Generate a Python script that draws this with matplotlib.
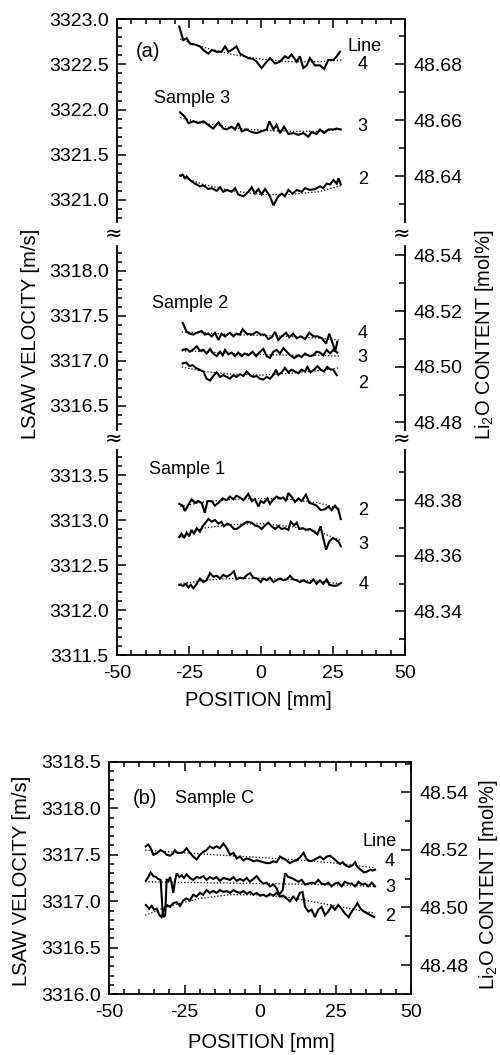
import matplotlib
matplotlib.use('Agg')
import matplotlib.pyplot as plt
from matplotlib.ticker import MultipleLocator, FormatStrFormatter, FixedLocator, FixedFormatter

plt.rcParams['font.family'] = ['Liberation Sans', 'DejaVu Sans']
plt.rcParams['mathtext.default'] = 'regular'

# ---------------- data: panel (a) ----------------
# Sample 3
s3_l4_x = [-28.4, -27.0, -25.8, -24.7, -22.9, -21.2, -20.0, -18.3, -17.1, -15.4, -13.7, -12.5, -11.3, -10.2,
           -8.5, -7.3, -5.6, -4.4, -2.7, -1.5, 0.2, 2.0, 3.1, 4.9, 6.6, 8.3, 9.5, 10.6, 12.4, 13.5, 14.7,
           15.9, 17.0, 18.7, 20.5, 21.9, 23.4, 25.1, 26.3, 27.4]
s3_l4_v = [3322.92, 3322.77, 3322.79, 3322.73, 3322.72, 3322.70, 3322.66, 3322.62, 3322.66, 3322.64, 3322.64,
           3322.70, 3322.64, 3322.66, 3322.70, 3322.62, 3322.59, 3322.57, 3322.56, 3322.53, 3322.46, 3322.53,
           3322.57, 3322.51, 3322.53, 3322.59, 3322.57, 3322.61, 3322.53, 3322.59, 3322.46, 3322.49, 3322.57,
           3322.49, 3322.49, 3322.45, 3322.55, 3322.55, 3322.59, 3322.64]
s3_l3_x = [-28.1, -26.4, -25.2, -23.5, -21.8, -20.0, -18.3, -16.6, -14.8, -13.1, -11.9, -10.2, -9.0, -7.9,
           -6.7, -5.0, -3.2, -1.5, 0.2, 2.0, 2.9, 4.3, 5.4, 6.6, 8.0, 9.5, 11.2, 13.0, 14.7, 16.4, 17.6,
           19.3, 20.5, 21.9, 23.4, 25.1, 26.3, 27.7]
s3_l3_v = [3321.97, 3321.92, 3321.85, 3321.87, 3321.85, 3321.87, 3321.83, 3321.79, 3321.86, 3321.79, 3321.78,
           3321.81, 3321.78, 3321.85, 3321.76, 3321.78, 3321.75, 3321.74, 3321.76, 3321.78, 3321.87, 3321.78,
           3321.83, 3321.74, 3321.81, 3321.73, 3321.74, 3321.72, 3321.74, 3321.70, 3321.75, 3321.73, 3321.78,
           3321.74, 3321.78, 3321.78, 3321.79, 3321.78]
s3_l2_x = [-28.1, -27.2, -26.4, -25.8, -24.7, -22.9, -21.2, -20.0, -18.3, -17.1, -15.4, -14.2, -13.1, -11.9,
           -10.2, -9.0, -7.9, -6.1, -4.4, -3.2, -2.1, -0.9, 0.2, 1.4, 3.1, 4.3, 6.0, 7.2, 8.3, 9.5, 11.0,
           12.4, 14.1, 15.3, 17.0, 18.7, 20.5, 21.6, 22.8, 24.0, 25.1, 26.3, 26.9, 27.7]
s3_l2_v = [3321.27, 3321.28, 3321.24, 3321.26, 3321.22, 3321.18, 3321.15, 3321.16, 3321.12, 3321.13, 3321.10,
           3321.14, 3321.09, 3321.11, 3321.09, 3321.13, 3321.06, 3321.04, 3321.09, 3321.14, 3321.07, 3321.12,
           3321.06, 3321.12, 3321.04, 3320.94, 3321.04, 3321.07, 3321.04, 3321.11, 3321.07, 3321.11, 3321.09,
           3321.13, 3321.11, 3321.12, 3321.15, 3321.13, 3321.18, 3321.17, 3321.22, 3321.18, 3321.24, 3321.17]
s3_fit_x = [-28, -20, -10, 0, 10, 20, 28]
s3_fit4_v = [3322.78, 3322.69, 3322.61, 3322.56, 3322.53, 3322.53, 3322.55]
s3_fit3_v = [3321.91, 3321.85, 3321.80, 3321.77, 3321.76, 3321.76, 3321.78]
s3_fit2_v = [3321.26, 3321.17, 3321.10, 3321.06, 3321.06, 3321.09, 3321.16]

# Sample 2
s2_l4_x = [-27.2, -25.8, -24.7, -23.5, -22.3, -20.6, -19.5, -18.3, -17.1, -16.0, -14.8, -13.7, -12.5, -10.8,
           -9.6, -8.5, -7.3, -6.4, -5.0, -3.2, -1.5, -0.1, 1.4, 2.5, 3.7, 4.9, 6.0, 7.2, 8.7, 9.8, 11.2,
           12.4, 13.8, 15.3, 16.8, 18.2, 19.6, 21.1, 22.6, 23.7, 25.1, 25.7, 26.5]
s2_l4_v = [3317.42, 3317.32, 3317.30, 3317.29, 3317.31, 3317.33, 3317.29, 3317.30, 3317.27, 3317.31, 3317.23,
           3317.30, 3317.27, 3317.31, 3317.27, 3317.30, 3317.29, 3317.35, 3317.30, 3317.29, 3317.32, 3317.29,
           3317.29, 3317.24, 3317.26, 3317.32, 3317.23, 3317.27, 3317.31, 3317.26, 3317.30, 3317.25, 3317.27,
           3317.24, 3317.31, 3317.27, 3317.27, 3317.25, 3317.19, 3317.30, 3317.17, 3317.10, 3317.21]
s2_l3_x = [-27.2, -25.8, -24.7, -23.3, -22.3, -21.2, -20.0, -18.9, -17.7, -16.6, -15.4, -14.2, -13.3, -12.5,
           -11.3, -10.2, -9.0, -7.9, -6.7, -5.6, -4.4, -2.9, -1.7, -0.6, 0.8, 2.0, 3.1, 4.3, 5.4, 6.6, 7.8,
           8.9, 10.1, 11.5, 13.0, 14.1, 15.3, 16.8, 18.2, 19.3, 20.5, 21.6, 22.8, 24.0, 25.1, 26.5]
s2_l3_v = [3317.12, 3317.13, 3317.10, 3317.13, 3317.16, 3317.11, 3317.12, 3317.08, 3317.13, 3317.08, 3317.05,
           3317.10, 3317.06, 3317.12, 3317.07, 3317.09, 3317.05, 3317.09, 3317.05, 3317.08, 3317.06, 3317.10,
           3317.05, 3317.09, 3317.13, 3317.05, 3317.03, 3317.10, 3317.12, 3317.08, 3317.14, 3317.10, 3317.06,
           3317.03, 3317.06, 3317.04, 3317.08, 3317.05, 3317.06, 3317.10, 3317.09, 3317.06, 3317.12, 3317.08,
           3317.12, 3317.09]
s2_l2_x = [-27.2, -26.0, -24.9, -23.7, -22.6, -21.4, -20.0, -18.9, -17.7, -16.6, -15.4, -14.2, -13.1, -11.9,
           -10.8, -9.6, -8.5, -7.3, -6.1, -5.0, -3.8, -2.7, -1.5, -0.4, 0.8, 2.0, 3.1, 4.3, 5.2, 6.0, 7.2,
           8.3, 9.5, 10.6, 11.8, 13.0, 14.1, 15.3, 16.1, 17.2, 18.4, 19.6, 20.7, 21.9, 23.0, 24.2, 25.1, 26.3]
s2_l2_v = [3316.97, 3316.98, 3316.94, 3316.95, 3316.92, 3316.90, 3316.88, 3316.80, 3316.78, 3316.83, 3316.87,
           3316.82, 3316.84, 3316.82, 3316.80, 3316.84, 3316.82, 3316.85, 3316.83, 3316.88, 3316.84, 3316.82,
           3316.83, 3316.80, 3316.79, 3316.82, 3316.80, 3316.84, 3316.90, 3316.84, 3316.87, 3316.92, 3316.87,
           3316.90, 3316.88, 3316.86, 3316.90, 3316.88, 3316.93, 3316.87, 3316.90, 3316.94, 3316.90, 3316.88,
           3316.93, 3316.90, 3316.90, 3316.84]
s2_fit_x = [-27.5, -20, -10, 0, 10, 20, 27]
s2_fit4_v = [3317.32, 3317.31, 3317.29, 3317.28, 3317.27, 3317.25, 3317.23]
s2_fit3_v = [3317.11, 3317.10, 3317.08, 3317.07, 3317.06, 3317.06, 3317.05]
s2_fit2_v = [3316.93, 3316.88, 3316.85, 3316.84, 3316.86, 3316.89, 3316.92]

# Sample 1
s1_l2_x = [-28.4, -27.2, -26.4, -25.2, -24.1, -22.9, -21.8, -20.6, -19.5, -18.6, -17.1, -16.0, -14.8, -13.3,
           -11.9, -10.8, -9.6, -8.5, -7.3, -6.1, -4.4, -3.2, -2.1, -0.9, -0.1, 1.0, 2.2, 3.1, 4.3, 5.4, 6.6,
           7.8, 8.7, 9.5, 10.6, 11.8, 13.0, 14.1, 15.6, 16.8, 17.9, 19.3, 20.7, 22.2, 23.4, 24.5, 25.7, 26.9,
           27.7]
s1_l2_v = [3313.18, 3313.16, 3313.10, 3313.17, 3313.23, 3313.19, 3313.21, 3313.19, 3313.08, 3313.21, 3313.21,
           3313.16, 3313.19, 3313.24, 3313.22, 3313.26, 3313.23, 3313.27, 3313.25, 3313.22, 3313.29, 3313.21,
           3313.23, 3313.15, 3313.21, 3313.19, 3313.24, 3313.18, 3313.23, 3313.26, 3313.24, 3313.25, 3313.21,
           3313.30, 3313.26, 3313.20, 3313.24, 3313.21, 3313.28, 3313.19, 3313.18, 3313.16, 3313.11, 3313.12,
           3313.15, 3313.11, 3313.16, 3313.11, 3313.01]
s1_l3_x = [-28.4, -27.6, -26.7, -25.8, -24.9, -24.1, -23.3, -22.3, -21.2, -20.3, -19.5, -18.3, -17.1, -16.0,
           -14.8, -13.7, -12.9, -11.7, -10.5, -9.4, -8.5, -7.1, -5.9, -4.8, -3.2, -2.1, -0.9, 0.2, 1.4, 2.5,
           3.7, 4.9, 6.0, 7.2, 8.3, 9.5, 10.3, 11.5, 12.4, 13.3, 14.5, 15.6, 17.0, 18.4, 19.6, 20.7, 21.6,
           22.6, 23.7, 24.9, 26.0, 26.9, 27.7]
s1_l3_v = [3312.81, 3312.85, 3312.80, 3312.86, 3312.82, 3312.89, 3312.85, 3312.91, 3312.87, 3312.93, 3312.96,
           3313.01, 3312.98, 3313.00, 3312.96, 3312.98, 3312.93, 3312.96, 3312.94, 3312.90, 3312.90, 3312.93,
           3312.96, 3312.98, 3312.97, 3312.94, 3312.93, 3312.90, 3312.94, 3312.97, 3312.93, 3312.90, 3312.93,
           3312.90, 3312.91, 3312.89, 3312.98, 3312.94, 3312.97, 3312.90, 3312.91, 3312.89, 3312.90, 3312.87,
           3312.84, 3312.93, 3312.80, 3312.67, 3312.76, 3312.80, 3312.78, 3312.76, 3312.71]
s1_l4_x = [-28.4, -27.0, -26.0, -25.2, -24.4, -23.5, -22.3, -21.2, -20.0, -18.9, -17.7, -16.6, -15.4, -14.2,
           -13.1, -11.9, -10.8, -9.4, -8.5, -7.3, -6.1, -4.8, -3.8, -2.7, -1.3, -0.1, 0.8, 2.0, 3.1, 4.3,
           5.4, 6.6, 7.8, 8.9, 10.1, 11.2, 12.4, 13.5, 14.7, 15.9, 17.0, 18.2, 19.3, 20.5, 21.6, 22.8, 23.7,
           25.1, 26.3, 27.7]
s1_l4_v = [3312.28, 3312.27, 3312.29, 3312.25, 3312.28, 3312.24, 3312.29, 3312.35, 3312.31, 3312.33, 3312.41,
           3312.37, 3312.38, 3312.35, 3312.39, 3312.37, 3312.39, 3312.43, 3312.34, 3312.36, 3312.35, 3312.39,
           3312.41, 3312.36, 3312.35, 3312.31, 3312.35, 3312.33, 3312.36, 3312.31, 3312.33, 3312.35, 3312.33,
           3312.34, 3312.38, 3312.34, 3312.33, 3312.31, 3312.33, 3312.31, 3312.30, 3312.34, 3312.29, 3312.33,
           3312.29, 3312.34, 3312.28, 3312.27, 3312.27, 3312.30]
s1_fit_x = [-28, -20, -10, 0, 10, 20, 28]
s1_fit2_v = [3313.15, 3313.20, 3313.23, 3313.24, 3313.23, 3313.19, 3313.12]
s1_fit3_v = [3312.81, 3312.91, 3312.95, 3312.96, 3312.93, 3312.87, 3312.77]
s1_fit4_v = [3312.29, 3312.33, 3312.35, 3312.35, 3312.34, 3312.32, 3312.29]

# ---------------- data: panel (b) Sample C ----------------
c_l4_x = [-37.8, -37.0, -36.2, -35.3, -34.0, -32.9, -31.8, -30.9, -29.8, -28.9, -28.2, -27.4, -26.3, -25.4,
          -24.3, -23.2, -22.1, -21.0, -19.9, -18.8, -17.7, -16.6, -15.5, -14.4, -13.3, -12.1, -11.0, -9.9,
          -8.8, -7.7, -6.6, -5.5, -4.4, -3.3, -2.2, -1.1, 0.0, 1.1, 2.2, 3.3, 4.4, 5.5, 6.6, 7.7, 8.8, 9.9,
          11.0, 12.1, 13.2, 14.4, 15.5, 16.6, 17.7, 18.8, 19.9, 21.0, 22.1, 23.2, 24.3, 25.4, 26.5, 27.4,
          28.5, 29.6, 30.7, 31.5, 32.2, 33.3, 34.4, 35.5, 36.6, 37.3, 38.1]
c_l4_v = [3317.59, 3317.61, 3317.57, 3317.50, 3317.52, 3317.55, 3317.53, 3317.50, 3317.49, 3317.51, 3317.55,
          3317.52, 3317.52, 3317.53, 3317.57, 3317.52, 3317.48, 3317.45, 3317.50, 3317.53, 3317.55, 3317.59,
          3317.57, 3317.59, 3317.57, 3317.62, 3317.57, 3317.50, 3317.52, 3317.46, 3317.48, 3317.44, 3317.46,
          3317.45, 3317.43, 3317.44, 3317.43, 3317.42, 3317.41, 3317.41, 3317.43, 3317.42, 3317.48, 3317.46,
          3317.44, 3317.41, 3317.43, 3317.44, 3317.47, 3317.52, 3317.45, 3317.43, 3317.44, 3317.46, 3317.48,
          3317.45, 3317.48, 3317.49, 3317.46, 3317.43, 3317.40, 3317.42, 3317.38, 3317.37, 3317.39, 3317.42,
          3317.37, 3317.34, 3317.31, 3317.32, 3317.34, 3317.33, 3317.34]
c_l3_x = [-37.8, -37.0, -36.2, -35.3, -34.4, -33.7, -32.9, -32.2, -31.8, -31.4, -30.9, -30.4, -29.8, -29.3,
          -28.7, -28.2, -27.6, -26.7, -25.9, -25.2, -24.3, -23.2, -22.1, -21.0, -19.9, -18.8, -17.7, -16.6,
          -15.5, -14.4, -13.3, -12.1, -11.0, -9.9, -8.8, -7.7, -6.6, -5.5, -4.4, -3.3, -2.2, -1.1, 0.0, 1.1,
          2.2, 3.3, 4.4, 5.5, 6.4, 7.5, 8.3, 9.4, 10.5, 11.6, 12.7, 13.8, 14.9, 16.0, 17.1, 18.2, 19.3,
          20.4, 21.5, 22.6, 23.7, 24.8, 25.9, 27.0, 28.1, 29.3, 30.4, 31.5, 32.6, 33.7, 34.8, 35.9, 37.0,
          38.1]
c_l3_v = [3317.22, 3317.26, 3317.31, 3317.27, 3317.26, 3317.24, 3317.23, 3316.87, 3316.83, 3316.85, 3317.24,
          3317.21, 3317.26, 3317.20, 3317.09, 3317.21, 3317.30, 3317.26, 3317.28, 3317.25, 3317.29, 3317.25,
          3317.23, 3317.26, 3317.25, 3317.27, 3317.23, 3317.26, 3317.24, 3317.26, 3317.22, 3317.25, 3317.24,
          3317.23, 3317.26, 3317.22, 3317.24, 3317.22, 3317.25, 3317.21, 3317.24, 3317.27, 3317.22, 3317.19,
          3317.20, 3317.16, 3317.18, 3317.14, 3317.07, 3317.12, 3317.30, 3317.26, 3317.25, 3317.23, 3317.21,
          3317.23, 3317.18, 3317.19, 3317.20, 3317.19, 3317.23, 3317.19, 3317.18, 3317.20, 3317.16, 3317.19,
          3317.20, 3317.16, 3317.21, 3317.19, 3317.19, 3317.16, 3317.21, 3317.18, 3317.19, 3317.16, 3317.20,
          3317.16]
c_l2_x = [-37.8, -36.7, -35.9, -35.1, -34.2, -33.3, -32.6, -31.8, -30.9, -29.8, -28.7, -27.6, -26.5, -25.4,
          -24.3, -23.2, -22.1, -21.0, -19.9, -18.8, -17.7, -16.6, -15.5, -14.4, -13.3, -12.1, -11.0, -9.9,
          -8.8, -7.7, -6.6, -5.5, -4.4, -3.3, -2.2, -1.1, 0.0, 1.1, 2.2, 3.3, 4.4, 5.5, 6.6, 7.7, 8.8, 9.9,
          11.0, 12.1, 13.2, 14.1, 14.9, 16.0, 17.1, 18.2, 19.3, 20.4, 21.5, 22.6, 23.7, 24.8, 25.9, 27.0,
          28.1, 29.3, 30.4, 31.5, 32.2, 33.3, 34.4, 35.5, 36.6, 37.8]
c_l2_v = [3316.96, 3316.92, 3316.95, 3316.91, 3316.92, 3316.85, 3316.83, 3316.91, 3316.96, 3316.94, 3316.98,
          3316.99, 3316.95, 3317.01, 3317.03, 3317.01, 3317.07, 3317.05, 3317.09, 3317.07, 3317.12, 3317.09,
          3317.11, 3317.09, 3317.12, 3317.10, 3317.11, 3317.09, 3317.12, 3317.10, 3317.09, 3317.11, 3317.08,
          3317.10, 3317.07, 3317.09, 3317.06, 3317.07, 3317.05, 3317.08, 3317.06, 3317.09, 3317.05, 3317.06,
          3317.03, 3317.00, 3317.05, 3317.01, 3317.09, 3317.10, 3316.94, 3316.89, 3316.91, 3316.83, 3316.91,
          3316.94, 3316.85, 3316.89, 3316.95, 3316.91, 3316.96, 3316.92, 3316.87, 3316.83, 3316.89, 3316.94,
          3316.98, 3316.92, 3316.89, 3316.87, 3316.85, 3316.83]
c_fit4_x = [-38, -25, -10, 0, 10, 25, 38]
c_fit4_v = [3317.55, 3317.52, 3317.49, 3317.47, 3317.45, 3317.41, 3317.36]
c_fit3_x = [-38, -20, 0, 20, 38]
c_fit3_v = [3317.21, 3317.20, 3317.19, 3317.18, 3317.16]
c_fit2_x = [-38, -30, -20, -10, 0, 10, 20, 30, 38]
c_fit2_v = [3316.85, 3316.95, 3317.03, 3317.07, 3317.07, 3317.04, 3316.98, 3316.92, 3316.87]

xticks = [-50, -25, 0, 25, 50]
xtick_labels = ['-50', '-25', '0', '25', '50']

# velocity <-> Li2O content mapping (linear)
V_REF, C_REF, SLOPE = 3316.933, 48.50, 30.93


def v2c(v):
    return C_REF + (v - V_REF) / SLOPE


W, H = 500, 1055
fig = plt.figure(figsize=(W / 100, H / 100), dpi=100)


def add_ax(x0, y0, x1, y1):
    return fig.add_axes([x0 / W, 1 - y1 / H, (x1 - x0) / W, (y1 - y0) / H])


FS_TICK = 14
SPW = 1.3


def style(ax, ylim, top, bottom, xlabels):
    ax.set_xlim(-50, 50)
    ax.set_ylim(*ylim)
    ax.xaxis.set_major_locator(FixedLocator(xticks))
    ax.xaxis.set_major_formatter(FixedFormatter(xtick_labels))
    ax.xaxis.set_minor_locator(MultipleLocator(5))
    ax.yaxis.set_major_locator(MultipleLocator(0.5))
    ax.yaxis.set_minor_locator(MultipleLocator(0.1))
    ax.yaxis.set_major_formatter(FormatStrFormatter('%.1f'))
    ax.spines['top'].set_visible(top)
    ax.spines['bottom'].set_visible(bottom)
    for s in ax.spines.values():
        s.set_linewidth(SPW)
    ax.tick_params(axis='both', which='both', direction='in', width=1.1, labelsize=FS_TICK)
    ax.tick_params(which='major', length=6.5)
    ax.tick_params(which='minor', length=3.5)
    ax.tick_params(axis='y', which='both', left=True, right=False, pad=6)
    ax.tick_params(axis='x', which='both', top=top, bottom=bottom, labelbottom=xlabels, pad=7)
    ax2 = ax.twinx()
    ax2.set_ylim(v2c(ylim[0]), v2c(ylim[1]))
    ax2.yaxis.set_major_locator(MultipleLocator(0.02))
    ax2.yaxis.set_minor_locator(MultipleLocator(0.01))
    ax2.yaxis.set_major_formatter(FormatStrFormatter('%.2f'))
    for s in ax2.spines.values():
        s.set_visible(False)
    ax2.tick_params(axis='y', which='both', direction='in', width=1.1, labelsize=FS_TICK,
                    pad=6, left=False, right=True)
    ax2.tick_params(axis='y', which='major', length=7.5)
    ax2.tick_params(axis='y', which='minor', length=4)
    return ax2


LW = 1.5
FIT = dict(color='k', lw=0.9, ls=(0, (1, 1.6)))


def draw(ax, x, v):
    ax.plot(x, v, color='k', lw=LW, solid_joinstyle='miter')


# ---- panel (a), three broken segments ----
ax3 = add_ax(117, 19.3, 405, 222)
style(ax3, (3320.755, 3323.0), True, False, False)
ax2s = add_ax(117, 246, 405, 430)
style(ax2s, (3316.23, 3318.274), False, False, False)
ax1 = add_ax(117, 450, 405, 655)
style(ax1, (3311.5, 3313.778), False, True, True)

for x, v in [(s3_l4_x, s3_l4_v), (s3_l3_x, s3_l3_v), (s3_l2_x, s3_l2_v)]:
    draw(ax3, x, v)
for fv in (s3_fit4_v, s3_fit3_v, s3_fit2_v):
    ax3.plot(s3_fit_x, fv, **FIT)
for x, v in [(s2_l4_x, s2_l4_v), (s2_l3_x, s2_l3_v), (s2_l2_x, s2_l2_v)]:
    draw(ax2s, x, v)
for fv in (s2_fit4_v, s2_fit3_v, s2_fit2_v):
    ax2s.plot(s2_fit_x, fv, **FIT)
for x, v in [(s1_l2_x, s1_l2_v), (s1_l3_x, s1_l3_v), (s1_l4_x, s1_l4_v)]:
    draw(ax1, x, v)
for fv in (s1_fit2_v, s1_fit3_v, s1_fit4_v):
    ax1.plot(s1_fit_x, fv, **FIT)

FS_ANN = 13
ax3.text(-39.2, 3322.64, '(a)', fontsize=14.5, ha='center', va='center')
ax3.text(-23.8, 3322.125, 'Sample 3', fontsize=FS_ANN, ha='center', va='center')
ax3.text(36.1, 3322.70, 'Line', fontsize=FS_ANN, ha='center', va='center')
ax3.text(35.3, 3322.50, '4', fontsize=FS_ANN, ha='center', va='center')
ax3.text(35.3, 3321.81, '3', fontsize=FS_ANN, ha='center', va='center')
ax3.text(35.3, 3321.23, '2', fontsize=FS_ANN, ha='center', va='center')
ax2s.text(-24.7, 3317.63, 'Sample 2', fontsize=FS_ANN, ha='center', va='center')
ax2s.text(35.3, 3317.30, '4', fontsize=FS_ANN, ha='center', va='center')
ax2s.text(35.3, 3317.03, '3', fontsize=FS_ANN, ha='center', va='center')
ax2s.text(35.3, 3316.75, '2', fontsize=FS_ANN, ha='center', va='center')
ax1.text(-25.5, 3313.556, 'Sample 1', fontsize=FS_ANN, ha='center', va='center')
ax1.text(35.5, 3313.11, '2', fontsize=FS_ANN, ha='center', va='center')
ax1.text(35.5, 3312.73, '3', fontsize=FS_ANN, ha='center', va='center')
ax1.text(35.5, 3312.28, '4', fontsize=FS_ANN, ha='center', va='center')

# break marks
for yb in (234, 439):
    for xb in (114, 402):
        fig.text(xb / W, 1 - yb / H, '\u2248', fontsize=15, family=['DejaVu Sans'],
                 ha='center', va='center')

FS_LAB = 14.5
fig.text(31 / W, 1 - 334 / H, 'LSAW VELOCITY [m/s]', rotation=90, fontsize=FS_LAB,
         ha='center', va='center')
fig.text(484 / W, 1 - 335 / H, 'Li$_2$O CONTENT [mol%]', rotation=90, fontsize=FS_LAB,
         ha='center', va='center')
fig.text(258 / W, 1 - 700 / H, 'POSITION [mm]', fontsize=FS_LAB, ha='center', va='center')

# ---- panel (b) ----
axb = add_ax(109, 761.7, 411, 994.3)
style(axb, (3316.0, 3318.5), True, True, True)
for x, v in [(c_l4_x, c_l4_v), (c_l3_x, c_l3_v), (c_l2_x, c_l2_v)]:
    draw(axb, x, v)
axb.plot(c_fit4_x, c_fit4_v, **FIT)
axb.plot(c_fit3_x, c_fit3_v, **FIT)
axb.plot(c_fit2_x, c_fit2_v, **FIT)
axb.text(-38.2, 3318.107, '(b)', fontsize=14.5, ha='center', va='center')
axb.text(-15.2, 3318.107, 'Sample C', fontsize=FS_ANN, ha='center', va='center')
axb.text(39.6, 3317.64, 'Line', fontsize=FS_ANN, ha='center', va='center')
axb.text(43.0, 3317.43, '4', fontsize=FS_ANN, ha='center', va='center')
axb.text(43.0, 3317.15, '3', fontsize=FS_ANN, ha='center', va='center')
axb.text(43.0, 3316.84, '2', fontsize=FS_ANN, ha='center', va='center')

fig.text(22 / W, 1 - 881 / H, 'LSAW VELOCITY [m/s]', rotation=90, fontsize=FS_LAB,
         ha='center', va='center')
fig.text(489 / W, 1 - 885 / H, 'Li$_2$O CONTENT [mol%]', rotation=90, fontsize=FS_LAB,
         ha='center', va='center')
fig.text(261 / W, 1 - 1042 / H, 'POSITION [mm]', fontsize=FS_LAB, ha='center', va='center')

fig.savefig('out.png', dpi=100)
